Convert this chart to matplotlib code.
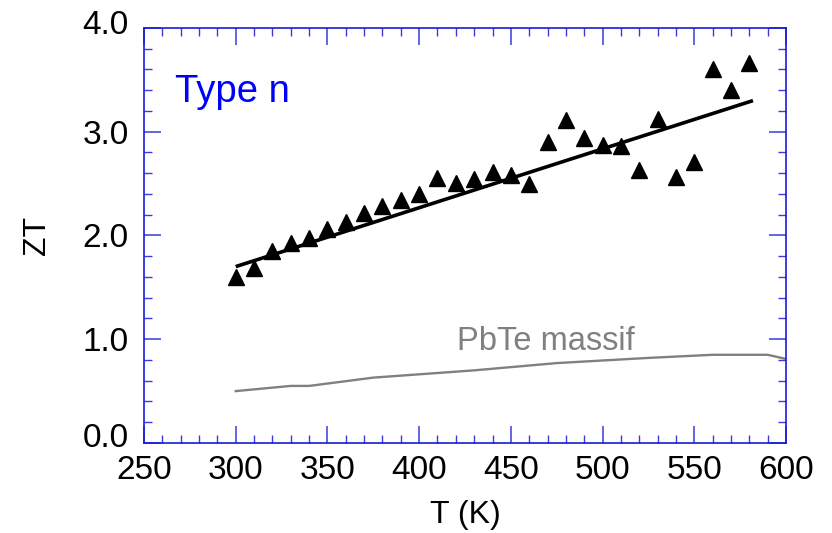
import matplotlib
matplotlib.use("Agg")
import matplotlib.pyplot as plt
import matplotlib.transforms as mtransforms
from matplotlib.ticker import MultipleLocator, FormatStrFormatter

plt.rcParams['font.family'] = ['Liberation Sans', 'DejaVu Sans']

# Measured ZT (type n) data
T_meas = [300, 310, 320, 330, 340, 350, 360, 370, 380, 390, 400, 410, 420, 430,
          440, 450, 460, 470, 480, 490, 500, 510, 520, 530, 540, 550, 560, 570, 580]
ZT_meas = [1.60, 1.69, 1.85, 1.93, 1.98, 2.06, 2.13, 2.22, 2.28, 2.34, 2.40, 2.55,
           2.51, 2.54, 2.61, 2.58, 2.50, 2.90, 3.11, 2.94, 2.87, 2.86, 2.63, 3.12,
           2.56, 2.71, 3.60, 3.40, 3.66]

# Linear fit endpoints
T_fit = [300, 582]
ZT_fit = [1.70, 3.30]

# PbTe bulk reference
T_bulk = [300, 330, 340, 375, 430, 475, 525, 560, 590, 600]
ZT_bulk = [0.50, 0.55, 0.55, 0.63, 0.70, 0.77, 0.82, 0.85, 0.85, 0.81]

fig = plt.figure(figsize=(8.32, 5.33), dpi=100)
ax = fig.add_axes([0.1731, 0.1689, 0.9447 - 0.1731, 0.9475 - 0.1689])

ax.plot(T_bulk, ZT_bulk, color='#808080', lw=1.7, clip_on=True)
ax.plot(T_fit, ZT_fit, color='black', lw=2.6, solid_capstyle='butt')
ax.plot(T_meas, ZT_meas, linestyle='none', marker='^', color='black', markersize=11.5)

ax.set_xlim(250, 600)
ax.set_ylim(0, 4.0)

ax.xaxis.set_major_locator(MultipleLocator(50))
ax.xaxis.set_minor_locator(MultipleLocator(10))
ax.yaxis.set_major_locator(MultipleLocator(1.0))
ax.yaxis.set_minor_locator(MultipleLocator(0.2))
ax.yaxis.set_major_formatter(FormatStrFormatter('%.1f'))

tick_col = '#3a3ae0'
for s in ax.spines.values():
    s.set_color('#1a1ad8')
    s.set_linewidth(1.2)

ax.tick_params(which='both', direction='in', top=True, right=True,
               color=tick_col, labelsize=24, labelcolor='black')
ax.tick_params(which='major', length=12, width=1.1)
ax.tick_params(which='minor', length=6, width=1.0)
ax.tick_params(axis='x', which='major', pad=9)
ax.tick_params(axis='y', which='major', pad=11)

ax.set_xlabel('T (K)', fontsize=23, labelpad=10)
ax.set_ylabel('ZT', fontsize=23, labelpad=22)

ax.text(0.048, 0.845, 'Type n', transform=ax.transAxes, color='#0000ff',
        fontsize=27.5, ha='left', va='center')
ax.text(469, 0.98, 'PbTe massif', color='#808080', fontsize=23.5,
        ha='center', va='center')

# shift the end labels of the y axis slightly upward, as in the original
fig.canvas.draw()
ylabels = ax.yaxis.get_majorticklabels()
for lab in ylabels:
    txt = lab.get_text()
    if txt == '0.0':
        lab.set_transform(lab.get_transform() + mtransforms.ScaledTranslation(0, 8 / 100, fig.dpi_scale_trans))
    elif txt == '4.0':
        lab.set_transform(lab.get_transform() + mtransforms.ScaledTranslation(0, 6 / 100, fig.dpi_scale_trans))

fig.savefig('out.png', dpi=100)
